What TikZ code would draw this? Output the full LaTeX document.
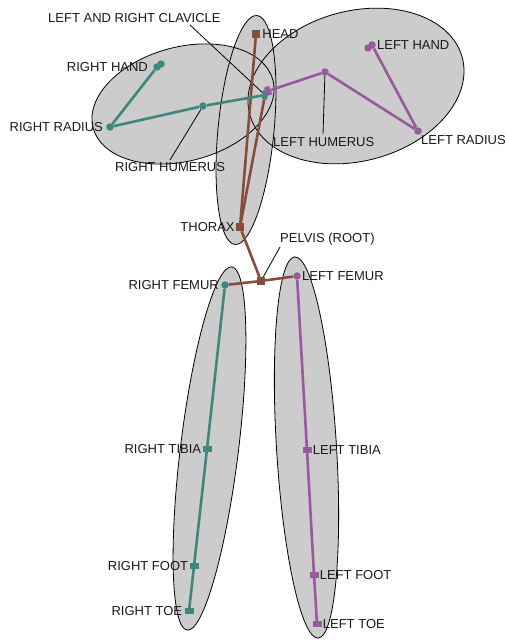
\documentclass[tikz,border=0pt]{standalone}
\usepackage{fontspec}
\setmainfont{Liberation Sans}
\usepackage{xcolor}
\usepackage{tikz}
\usetikzlibrary{positioning}
\definecolor{BoneBrown}{RGB}{134, 78, 58}
\definecolor{RightTeal}{RGB}{61, 135, 125}
\definecolor{LeftPurple}{RGB}{152, 90, 158}
\definecolor{GroupGray}{RGB}{204, 204, 204}
\definecolor{LabelInk}{RGB}{25, 25, 25}

\tikzset{
  bone/.style={line width=2.6pt},
  leader/.style={draw=black, line width=0.8pt},
  grouprim/.style={draw=black, line width=0.8pt},
  dotjoint/.style={circle, inner sep=0pt, minimum size=7.5pt},
  boxjoint/.style={rectangle, inner sep=0pt, minimum size=8pt},
  barjoint/.style={rectangle, inner sep=0pt, minimum width=9pt, minimum height=5.5pt},
  lbl/.style={inner sep=1pt, text=LabelInk, font=\fontsize{13}{15}\selectfont}
}

\begin{document}
\begin{tikzpicture}[x=1pt, y=-1pt]
        \useasboundingbox (0,0) rectangle (506,640);

        \path[fill=GroupGray] (246,130) ellipse [x radius=28, y radius=115, rotate=-5.5];
        \path[fill=GroupGray] (183,104) ellipse [x radius=93, y radius=57, rotate=15];
        \path[fill=GroupGray] (356,86) ellipse [x radius=110, y radius=75, rotate=15];
        \path[fill=GroupGray] (209.5,448.5) ellipse [x radius=29, y radius=183, rotate=-7];
        \path[fill=GroupGray] (306.5,447.5) ellipse [x radius=30, y radius=191, rotate=3.5];
        \path[grouprim] (246,130) ellipse [x radius=28, y radius=115, rotate=-5.5];
        \path[grouprim] (183,104) ellipse [x radius=93, y radius=57, rotate=15];
        \path[grouprim] (356,86) ellipse [x radius=110, y radius=75, rotate=15];
        \path[grouprim] (209.5,448.5) ellipse [x radius=29, y radius=183, rotate=-7];
        \path[grouprim] (306.5,447.5) ellipse [x radius=30, y radius=191, rotate=3.5];

        % joints
        \node[boxjoint, fill=BoneBrown] (head) at (256,34) {};
        \node[boxjoint, fill=BoneBrown] (thorax) at (240,227) {};
        \node[boxjoint, fill=BoneBrown] (pelvis) at (261,281) {};
        \node[barjoint, fill=RightTeal, rotate=80] (rclav) at (265,95) {};
        \node[barjoint, fill=LeftPurple, rotate=-70] (lclav) at (268,91) {};

        \node[dotjoint, fill=RightTeal] (rhum) at (203,106) {};
        \node[dotjoint, fill=RightTeal] (rrad) at (110,127) {};
        \node[dotjoint, fill=RightTeal] (rhand) at (157,67) {};
        \node[dotjoint, fill=RightTeal] (rtip) at (161,64) {};
        \node[dotjoint, fill=LeftPurple] (lhum) at (325,72) {};
        \node[dotjoint, fill=LeftPurple] (lrad) at (418,131) {};
        \node[dotjoint, fill=LeftPurple] (lhand) at (372,45) {};
        \node[dotjoint, fill=LeftPurple] (ltip) at (368,48) {};

        \node[dotjoint, fill=RightTeal] (rfemur) at (225,285) {};
        \node[barjoint, fill=RightTeal] (rtibia) at (207,449) {};
        \node[barjoint, fill=RightTeal] (rfoot) at (194,566) {};
        \node[barjoint, fill=RightTeal] (rtoe) at (189,611) {};
        \node[dotjoint, fill=LeftPurple] (lfemur) at (297,276) {};
        \node[barjoint, fill=LeftPurple] (ltibia) at (307,450) {};
        \node[barjoint, fill=LeftPurple] (lfoot) at (314,575) {};
        \node[barjoint, fill=LeftPurple] (ltoe) at (317,624) {};

        % leaders
        \coordinate (clavtail) at (190,25);
        \coordinate (rhumtail) at (170,160);
        \coordinate (lhumtail) at (323,134);
        \coordinate (pelvistail) at (280,247);
        \draw[leader] (clavtail) -- (rclav);
        \draw[leader] (rhumtail) -- (rhum);
        \draw[leader] (lhumtail) -- (lhum);
        \draw[leader] (pelvistail) -- (pelvis);

        % bones
        \draw[bone, BoneBrown] (head) -- (thorax);
        \draw[bone, BoneBrown] (thorax) -- (rclav);
        \draw[bone, BoneBrown] (thorax) -- (pelvis);
        \draw[bone, BoneBrown] (pelvis) -- (rfemur);
        \draw[bone, BoneBrown] (pelvis) -- (lfemur);
        \draw[bone, RightTeal] (rclav) -- (rhum) -- (rrad) -- (rhand) -- (rtip);
        \draw[bone, LeftPurple] (lclav) -- (lhum) -- (lrad) -- (lhand) -- (ltip);
        \draw[bone, RightTeal] (rfemur) -- (rtibia) -- (rfoot) -- (rtoe);
        \draw[bone, LeftPurple] (lfemur) -- (ltibia) -- (lfoot) -- (ltoe);

        % labels
        \node[lbl, anchor=west] (clavlbl) at (47,18) {LEFT AND RIGHT CLAVICLE};
        \node[lbl, right=1pt of head] (headlbl) {HEAD};
        \node[lbl, left=4pt of rhand] (rhandlbl) {RIGHT HAND};
        \node[lbl, left=2pt of rrad] (rradlbl) {RIGHT RADIUS};
        \node[lbl, anchor=west] (rhumlbl) at (114,167) {RIGHT HUMERUS};
        \node[lbl, anchor=west] (lhumlbl) at (272,142) {LEFT HUMERUS};
        \node[lbl, anchor=west] (lradlbl) at (420,140) {LEFT RADIUS};
        \node[lbl, right=0pt of lhand] (lhandlbl) {LEFT HAND};
        \node[lbl, left=0pt of thorax] (thoraxlbl) {THORAX};
        \node[lbl, anchor=west] (pelvislbl) at (279,239) {PELVIS (ROOT)};
        \node[lbl, right=0pt of lfemur] (lfemurlbl) {LEFT FEMUR};
        \node[lbl, left=1pt of rfemur] (rfemurlbl) {RIGHT FEMUR};
        \node[lbl, left=0pt of rtibia] (rtibialbl) {RIGHT TIBIA};
        \node[lbl, right=0pt of ltibia] (ltibialbl) {LEFT TIBIA};
        \node[lbl, left=0pt of rfoot] (rfootlbl) {RIGHT FOOT};
        \node[lbl, right=0pt of lfoot] (lfootlbl) {LEFT FOOT};
        \node[lbl, left=1pt of rtoe] (rtoelbl) {RIGHT TOE};
        \node[lbl, right=0pt of ltoe] (ltoelbl) {LEFT TOE};
      \end{tikzpicture}
\end{document}
